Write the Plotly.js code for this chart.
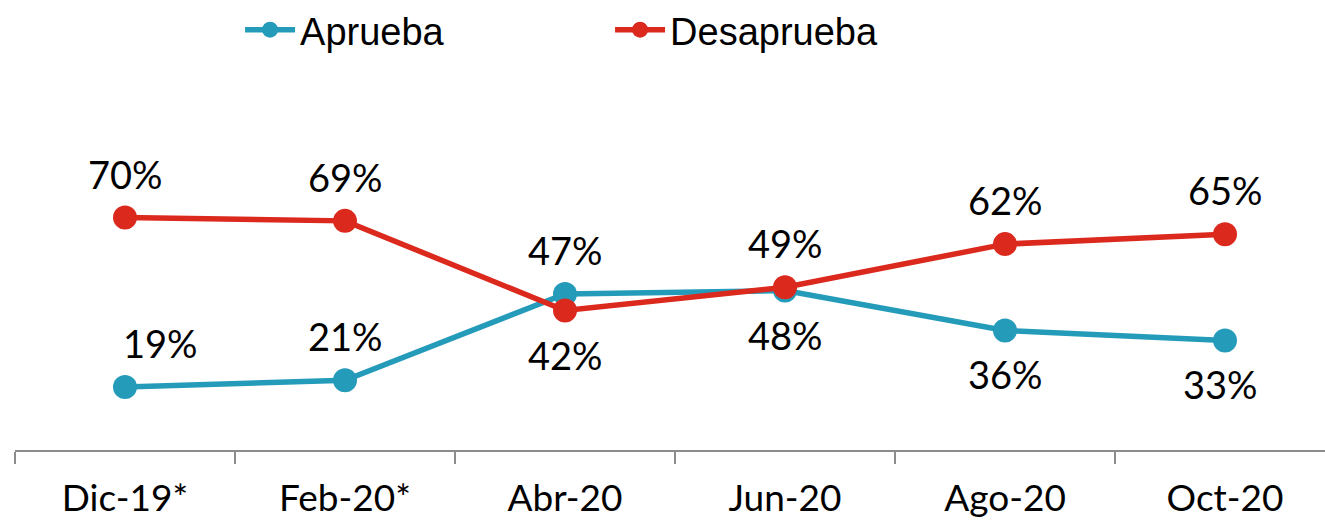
<!DOCTYPE html>
<html>
<head>
<meta charset="utf-8">
<script src="https://cdn.plot.ly/plotly-3.0.1.min.js"></script>
<style>html,body{margin:0;padding:0;background:#fff;}#chart{width:1325px;height:525px;}</style>
</head>
<body>
<div id="chart"></div>
<script>
const categories = ["Dic-19*", "Feb-20*", "Abr-20", "Jun-20", "Ago-20", "Oct-20"];
const aprueba = [19, 21, 47, 48, 36, 33];
const desaprueba = [70, 69, 42, 49, 62, 65];
const seriesNames = ["Aprueba", "Desaprueba"];

// label placement (styling): +1 above the point, -1 below
const aprSide = [1, 1, 1, -1, -1, -1];
const desSide = [1, 1, -1, 1, 1, 1];
const aprXShift = [35, 0, 0, 0, 0, -5];

const BLUE = "#259bba";
const RED = "#dc291e";
const FONT = "Lato, 'Open Sans', sans-serif";

function trace(name, vals, color) {
  return {
    type: "scatter", mode: "lines+markers", name: name,
    x: categories, y: vals,
    line: {color: color, width: 5.5},
    marker: {color: color, size: 24},
    cliponaxis: false, hoverinfo: "skip"
  };
}

const annotations = [];
function addLabels(vals, side, xs) {
  vals.forEach((v, i) => {
    annotations.push({
      x: categories[i], y: v, xref: "x", yref: "y",
      text: v + "%", showarrow: false,
      yshift: side[i] * 44, xshift: xs ? xs[i] : 0,
      font: {family: FONT, size: 38, color: "#000"}
    });
  });
}
addLabels(aprueba, aprSide, aprXShift);
addLabels(desaprueba, desSide, null);

const layout = {
  width: 1325, height: 525,
  margin: {l: 15, r: 0, t: 100, b: 75},
  paper_bgcolor: "#fff", plot_bgcolor: "#fff",
  showlegend: true,
  legend: {
    orientation: "h", x: 0.1718, xanchor: "left",
    yref: "container", y: 1 - 30/525, yanchor: "middle",
    font: {family: "'Liberation Sans', Arial, sans-serif", size: 38, color: "#000"},
    itemwidth: 50, entrywidth: 305, bgcolor: "rgba(0,0,0,0)"
  },
  xaxis: {
    type: "category", range: [-0.5, 5.4545],
    showline: true, linecolor: "#8c8c8c", linewidth: 2,
    ticks: "outside", tickson: "boundaries", ticklen: 12, tickcolor: "#8c8c8c", tickwidth: 2,
    showgrid: false, zeroline: false,
    tickfont: {family: FONT, size: 37, color: "#000"},
    ticklabelstandoff: 15, fixedrange: true
  },
  yaxis: {
    range: [0, 105.4], visible: false, showgrid: false, zeroline: false, fixedrange: true
  },
  annotations: annotations
};

Plotly.newPlot("chart", [trace(seriesNames[0], aprueba, BLUE), trace(seriesNames[1], desaprueba, RED)], layout, {displayModeBar: false, staticPlot: true});
</script>
</body>
</html>
